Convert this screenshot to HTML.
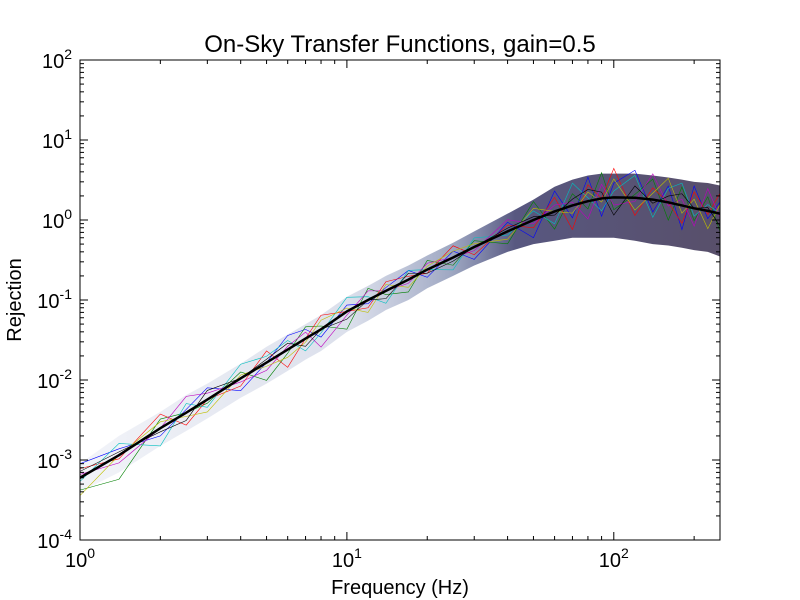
<!DOCTYPE html>
<html><head><meta charset="utf-8"><style>
body{margin:0;background:#fff;}
svg{display:block;font-family:"Liberation Sans",sans-serif;}
</style></head><body>
<svg id="chart" width="800" height="600"></svg>
<script>
const freqs=[1,1.4,2,2.5,3,4,5,6,7,8,10,12,14,17,20,25,30,40,50,60,70,80,90,100,120,140,160,180,200,225,250];
const model=[6e-4,1.15e-3,2.5e-3,3.9e-3,5.7e-3,1.05e-2,1.65e-2,2.4e-2,3.3e-2,4.3e-2,7.2e-2,0.1,0.13,0.18,0.24,0.34,0.46,0.72,1.0,1.28,1.52,1.72,1.86,1.92,1.9,1.8,1.66,1.52,1.4,1.3,1.2];
const bandLo=[4e-4,7e-4,1.5e-3,2.3e-3,3.3e-3,6e-3,9e-3,1.3e-2,1.8e-2,2.3e-2,4e-2,5.5e-2,7.5e-2,0.1,0.14,0.2,0.27,0.4,0.5,0.55,0.6,0.6,0.6,0.6,0.55,0.5,0.48,0.45,0.42,0.4,0.35];
const bandHi=[9e-4,2e-3,4e-3,6.5e-3,9e-3,1.6e-2,2.6e-2,3.7e-2,5e-2,6.5e-2,0.11,0.15,0.2,0.27,0.36,0.52,0.72,1.2,1.8,2.6,3.2,3.6,3.8,3.8,3.8,3.6,3.4,3.2,3.0,2.9,2.7];
const ratios=[
[1.5,1.2,0.8,1.1,1.4,0.7,1.0,1.5,1.3,0.8,1.2,0.9,1.1,1.3,0.8,1.2,0.7,1.3,0.6,1.8,0.7,2.0,0.6,1.5,2.2,0.7,1.6,0.5,1.9,0.8,1.4],
[0.7,0.5,1.3,1.0,0.9,1.2,0.6,0.9,1.4,1.1,0.6,1.4,0.9,0.7,1.3,0.8,1.2,0.7,1.7,0.6,1.4,0.8,2.1,0.7,1.1,1.8,0.6,1.7,0.7,1.5,0.6],
[1.3,0.9,1.5,0.7,1.0,0.8,1.4,0.6,1.0,1.5,1.0,0.8,1.3,1.1,0.9,1.4,0.8,1.2,0.8,1.5,0.5,1.6,1.0,2.3,0.6,1.4,1.0,0.6,1.6,0.9,1.8],
[0.9,1.4,0.6,1.3,0.8,1.5,1.2,1.3,0.7,0.9,1.5,1.1,0.7,1.3,1.0,0.7,1.3,0.9,1.3,0.7,1.9,1.1,0.7,1.2,1.9,0.6,1.5,1.9,0.8,1.2,1.0],
[1.1,0.8,1.0,1.6,1.2,0.9,0.8,1.1,1.2,0.6,0.9,1.3,1.0,0.9,1.2,1.0,0.9,1.4,0.9,1.2,1.1,0.6,1.5,0.8,0.9,2.1,0.9,1.2,0.6,1.9,0.9],
[0.6,1.0,1.2,0.9,0.7,1.1,0.9,0.8,0.9,1.3,1.1,0.7,1.2,0.8,1.1,1.2,1.1,0.8,1.4,1.0,0.8,1.3,0.9,1.7,0.7,1.2,2.0,0.8,1.3,0.6,1.3],
[1.2,1.1,0.9,0.8,1.3,1.0,1.1,1.2,0.8,1.0,0.8,1.0,0.8,1.2,0.9,0.9,1.0,1.1,1.1,0.9,1.2,1.4,1.2,0.6,1.4,0.9,1.2,1.4,1.0,1.1,0.7]];
const colors=["#0000ff","#008000","#ff0000","#00bfbf","#bf00bf","#bfbf00","#000000"];
const xTicks=[1,10,100];
const yTicks=[-4,-3,-2,-1,0,1,2];

const L=80,R=720,T=60,B=540,xmin=0,xmax=Math.log10(250),ymin=-4,ymax=2;
const sx=f=>L+(Math.log10(f)-xmin)/(xmax-xmin)*(R-L);
const sy=v=>B-(Math.log10(v)-ymin)/(ymax-ymin)*(B-T);
const NS="http://www.w3.org/2000/svg";
const svg=document.getElementById('chart');
function mk(t,a,p){const e=document.createElementNS(NS,t);for(const k in a)e.setAttribute(k,a[k]);(p||svg).appendChild(e);return e;}

const clip=mk('clipPath',{id:'pc'});mk('rect',{x:L,y:T,width:R-L,height:B-T},clip);
const plot=mk('g',{'clip-path':'url(#pc)'});



let d=freqs.map((f,i)=>(i?'L':'M')+sx(f)+','+sy(bandHi[i])).join('')+freqs.slice().reverse().map((f,j)=>{const i=freqs.length-1-j;return 'L'+sx(f)+','+sy(bandLo[i]);}).join('')+'Z';
const grad=mk('linearGradient',{id:'bg',x1:0,y1:0,x2:1,y2:0,gradientUnits:'userSpaceOnUse'});
grad.setAttribute('x1',L);grad.setAttribute('x2',R);
[["0","#8090c0",0.1],["0.42","#7080b0",0.25],["0.58","#506090",0.55],["0.68","#3a3a6a",0.85],["1","#3a3050",0.85]].forEach(s=>mk('stop',{offset:s[0],'stop-color':s[1],'stop-opacity':s[2]},grad));
const band=mk('path',{d:d,fill:'url(#bg)'},plot);



ratios.forEach((r,k)=>{
  const p=mk('path',{d:freqs.map((f,i)=>(i?'L':'M')+sx(f)+','+sy(model[i]*r[i])).join(''),fill:'none',stroke:colors[k],'stroke-width':0.6},plot);
  
  
});
const m=mk('path',{d:freqs.map((f,i)=>(i?'L':'M')+sx(f)+','+sy(model[i])).join(''),fill:'none',stroke:'#000','stroke-width':2.5},plot);



const fr=mk('rect',{x:L,y:T,width:R-L,height:B-T,fill:'none',stroke:'#000','stroke-width':1});



for(let e=0;e<=2;e++){for(let m2=1;m2<10;m2++){const f=m2*Math.pow(10,e);if(f>250)break;const x=sx(f);const len=m2==1?8:4;
 mk('line',{x1:x,x2:x,y1:B,y2:B-len,stroke:'#000'});mk('line',{x1:x,x2:x,y1:T,y2:T+len,stroke:'#000'});}}
xTicks.forEach(f=>{const t=mk('text',{x:sx(f),y:B+27,'text-anchor':'middle','font-size':20});
 
 t.innerHTML='10<tspan dy="-9" font-size="14">'+Math.log10(f)+'</tspan>';});
yTicks.forEach(e=>{const y=sy(Math.pow(10,e));
 mk('line',{x1:L,x2:L+8,y1:y,y2:y,stroke:'#000'});mk('line',{x1:R,x2:R-8,y1:y,y2:y,stroke:'#000'});
 if(e<2)for(let m2=2;m2<10;m2++){const yy=sy(m2*Math.pow(10,e));mk('line',{x1:L,x2:L+4,y1:yy,y2:yy,stroke:'#000'});mk('line',{x1:R,x2:R-4,y1:yy,y2:yy,stroke:'#000'});}
 const t=mk('text',{x:L-8,y:y+8,'text-anchor':'end','font-size':20});
 
 t.innerHTML='10<tspan dy="-9" font-size="14">'+e+'</tspan>';});

let t=mk('text',{x:400,y:52,'text-anchor':'middle','font-size':24});t.textContent='On-Sky Transfer Functions, gain=0.5';

t=mk('text',{x:400,y:594,'text-anchor':'middle','font-size':20});t.textContent='Frequency (Hz)';

t=mk('text',{x:21,y:300,'text-anchor':'middle','font-size':20,transform:'rotate(-90 21 300)'});t.textContent='Rejection';

</script>
</body></html>
